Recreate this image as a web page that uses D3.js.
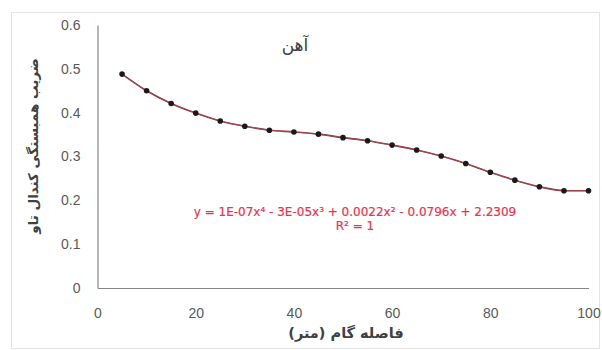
<!DOCTYPE html>
<html><head><meta charset="utf-8">
<script src="https://cdn.jsdelivr.net/npm/d3@7"></script>
<style>body{margin:0;background:#fff}svg{display:block}</style>
</head><body>
<script>
// Lag distance (m) and Kendall tau correlation coefficient for iron
const lagDistance = [5,10,15,20,25,30,35,40,45,50,55,60,65,70,75,80,85,90,95,100];
const kendallTau = [0.488,0.450,0.421,0.399,0.381,0.369,0.360,0.356,0.351,0.343,0.336,0.326,0.315,0.301,0.284,0.264,0.246,0.231,0.222,0.222];
const xTicks = [0,20,40,60,80,100];
const yTicks = [0,0.1,0.2,0.3,0.4,0.5,0.6];
const chartTitle = "آهن";
const xTitle = "فاصله گام (متر)";
const yTitle = "ضریب همبستگی کندال تاو";
const trendLines = ["y = 1E-07x⁴ - 3E-05x³ + 0.0022x² - 0.0796x + 2.2309", "R² = 1"];

const W = 602, H = 350;
const svg = d3.select("body").append("svg").attr("width", W).attr("height", H);

svg.append("rect").attr("x", 11.5).attr("y", 12.5).attr("width", 588).attr("height", 336)
  .attr("fill", "#fff").attr("stroke", "#e4e4e4");

const x = d3.scaleLinear().domain([0,100]).range([97.5,588.5]);
const y = d3.scaleLinear().domain([0,0.6]).range([288,25]);

const font = "'Liberation Sans', Arial, sans-serif";
const arFont = "'DejaVu Sans', 'Noto Sans', sans-serif";

// axes
const xAxis = svg.append("g").attr("transform", `translate(0,${y(0)})`)
  .call(d3.axisBottom(x).tickValues(xTicks).tickSize(0).tickPadding(20).tickFormat(d3.format("d")));
const yAxis = svg.append("g").attr("transform", `translate(${x(0)},0)`)
  .call(d3.axisLeft(y).tickValues(yTicks).tickSize(0).tickPadding(17).tickFormat(d => d === 0 ? "0" : d3.format(".1f")(d)));
[xAxis, yAxis].forEach(g => {
  g.select(".domain").attr("stroke", "#868686").attr("stroke-width", 1.2);
  g.selectAll("text").attr("fill", "#595959").attr("font-size", 14).attr("font-family", font);
});

// data line and markers
const pts = lagDistance.map((d,i) => [d, kendallTau[i]]);
const line = d3.line().x(d => x(d[0])).y(d => y(d[1])).curve(d3.curveMonotoneX);
svg.append("path").datum(pts)
  .attr("fill", "none").attr("stroke", "#6e3434").attr("stroke-width", 1.6).attr("d", line);
svg.append("path").datum(pts)
  .attr("fill", "none").attr("stroke", "#d9556a").attr("stroke-width", 0.8).attr("opacity", 0.7).attr("d", line);
svg.append("g").selectAll("circle").data(pts).join("circle")
  .attr("cx", d => x(d[0])).attr("cy", d => y(d[1])).attr("r", 2.8).attr("fill", "#1a1a1a");

// titles
svg.append("text").attr("x", 295).attr("y", 51).attr("text-anchor", "middle")
  .attr("font-family", arFont).attr("font-size", 17).attr("fill", "#404040").text(chartTitle);
svg.append("text").attr("x", 346).attr("y", 338).attr("text-anchor", "middle")
  .attr("font-family", arFont).attr("font-size", 14.5).attr("font-weight", "bold").attr("fill", "#404040").text(xTitle);
svg.append("text").attr("transform", "translate(38,146) rotate(-90)").attr("text-anchor", "middle")
  .attr("font-family", arFont).attr("font-size", 13.5).attr("font-weight", "bold").attr("fill", "#404040").text(yTitle);

// trendline equation
svg.append("g").selectAll("text").data(trendLines).join("text")
  .attr("x", 355).attr("y", (d,i) => 216 + i*14).attr("text-anchor", "middle")
  .attr("font-family", arFont).attr("font-size", 12).attr("fill", "#e8354e")
  .attr("stroke", "#e8354e").attr("stroke-width", 0.2)
  .text(d => d);
</script>
</body></html>
